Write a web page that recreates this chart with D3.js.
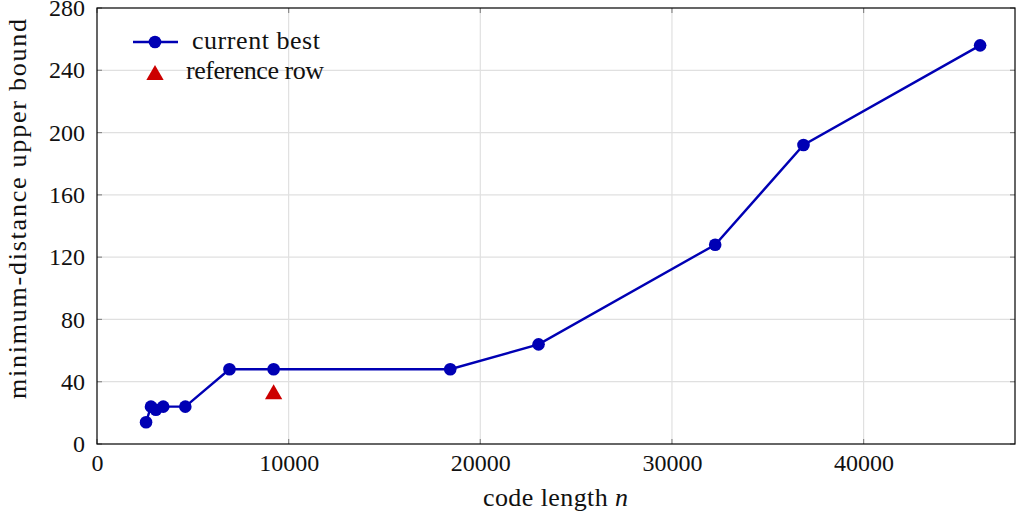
<!DOCTYPE html>
<html>
<head>
<meta charset="utf-8">
<script src="https://cdn.jsdelivr.net/npm/d3@7"></script>
<style>
  body { margin: 0; background: #fff; }
  svg text { font-family: "Liberation Serif", "DejaVu Serif", serif; fill: #111; }
</style>
</head>
<body>
<div id="chart"></div>
<script>
// Data
const codeLength = [2560, 2816, 3072, 3456, 4608, 6912, 9216, 18432, 23040, 32256, 36864, 46080];
const currentBest = [14, 24, 22, 24, 24, 48, 48, 48, 64, 128, 192, 256];
const refLength = [9216];
const refRow = [32];
const xTicks = [0, 10000, 20000, 30000, 40000];
const yTicks = [0, 40, 80, 120, 160, 200, 240, 280];

const width = 1016, height = 517;
const margin = { left: 97, right: 1, top: 8, bottom: 73 };
const fs = 24;   // tick labels
const lfs = 26;  // legend and axis labels

const svg = d3.select("#chart").append("svg")
  .attr("width", width)
  .attr("height", height);

const x = d3.scaleLinear().domain([0, 47900]).range([margin.left, width - margin.right]);
const y = d3.scaleLinear().domain([0, 280]).range([height - margin.bottom, margin.top]);

const blue = "#0000b4";
const red = "#cc0000";

// Grid
const grid = svg.append("g").attr("stroke", "#e0e0e0").attr("stroke-width", 1.2);
grid.selectAll("line.gx").data(xTicks.slice(1)).join("line")
  .attr("x1", d => x(d)).attr("x2", d => x(d))
  .attr("y1", y(0)).attr("y2", y(280));
grid.selectAll("line.gy").data(yTicks.slice(1, -1)).join("line")
  .attr("x1", x.range()[0]).attr("x2", x.range()[1])
  .attr("y1", d => y(d)).attr("y2", d => y(d));

// Axes (ticks inside, both sides)
const tickLen = 5;
const xAxis = svg.append("g").attr("transform", `translate(0,${y(0)})`)
  .call(d3.axisBottom(x).tickValues(xTicks).tickSize(0).tickFormat(d3.format("d")));
xAxis.select(".domain").remove();
xAxis.selectAll("text").attr("font-size", fs).attr("y", 27).attr("dy", null);

const yAxis = svg.append("g").attr("transform", `translate(${x.range()[0]},0)`)
  .call(d3.axisLeft(y).tickValues(yTicks).tickSize(0).tickPadding(12));
yAxis.select(".domain").remove();
yAxis.selectAll("text").attr("font-size", fs);

const ticks = svg.append("g").attr("stroke", "#8a8a8a").attr("stroke-width", 1.2);
xTicks.forEach(t => {
  ticks.append("line").attr("x1", x(t)).attr("x2", x(t)).attr("y1", y(0)).attr("y2", y(0) - tickLen);
  ticks.append("line").attr("x1", x(t)).attr("x2", x(t)).attr("y1", y(280)).attr("y2", y(280) + tickLen);
});
yTicks.forEach(t => {
  ticks.append("line").attr("x1", x.range()[0]).attr("x2", x.range()[0] + tickLen).attr("y1", y(t)).attr("y2", y(t));
  ticks.append("line").attr("x1", x.range()[1]).attr("x2", x.range()[1] - tickLen).attr("y1", y(t)).attr("y2", y(t));
});

// Frame
svg.append("rect")
  .attr("x", x.range()[0]).attr("y", y(280))
  .attr("width", x.range()[1] - x.range()[0]).attr("height", y(0) - y(280))
  .attr("fill", "none").attr("stroke", "#000").attr("stroke-width", 1.2);

// Series
const pts = codeLength.map((n, i) => ({ n, d: currentBest[i] }));
svg.append("path").datum(pts)
  .attr("fill", "none").attr("stroke", blue).attr("stroke-width", 2.4)
  .attr("d", d3.line().x(p => x(p.n)).y(p => y(p.d)));
svg.append("g").selectAll("circle").data(pts).join("circle")
  .attr("cx", p => x(p.n)).attr("cy", p => y(p.d)).attr("r", 6.3).attr("fill", blue);

const tri = d3.symbol().type(d3.symbolTriangle).size(130);
svg.append("g").selectAll("path").data(refLength.map((n, i) => ({ n, d: refRow[i] }))).join("path")
  .attr("d", tri).attr("fill", red)
  .attr("transform", p => `translate(${x(p.n)},${y(p.d)})`);

// Legend
const lg = svg.append("g");
lg.append("line").attr("x1", 133).attr("x2", 178).attr("y1", 42).attr("y2", 42)
  .attr("stroke", blue).attr("stroke-width", 2.4);
lg.append("circle").attr("cx", 155).attr("cy", 42).attr("r", 6.3).attr("fill", blue);
lg.append("text").attr("x", 192).attr("y", 49).attr("font-size", lfs)
  .attr("textLength", 128).attr("lengthAdjust", "spacing").text("current best");
lg.append("path").attr("d", tri).attr("fill", red).attr("transform", "translate(155,75)");
lg.append("text").attr("x", 186).attr("y", 79).attr("font-size", lfs)
  .attr("textLength", 138).attr("lengthAdjust", "spacing").text("reference row");

// Axis labels
const xl = svg.append("text").attr("x", 483).attr("y", 506)
  .attr("font-size", lfs).attr("textLength", 145).attr("lengthAdjust", "spacing");
xl.append("tspan").text("code length ");
xl.append("tspan").attr("font-style", "italic").text("n");

svg.append("text")
  .attr("transform", `translate(26,399) rotate(-90)`)
  .attr("font-size", lfs).attr("textLength", 380).attr("lengthAdjust", "spacing")
  .text("minimum-distance upper bound");
</script>
</body>
</html>
